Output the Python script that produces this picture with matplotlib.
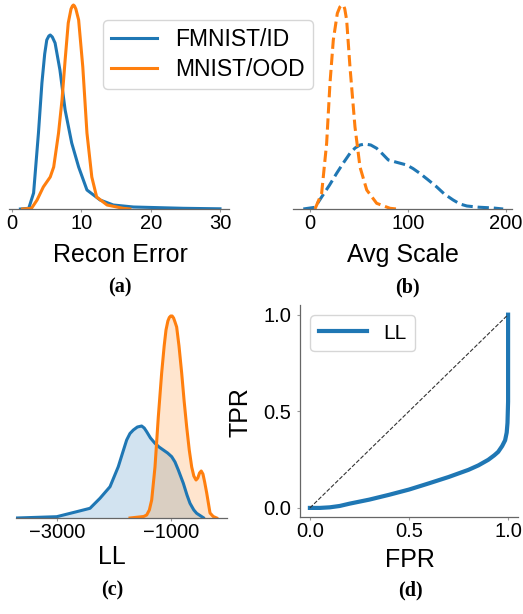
import matplotlib
matplotlib.use("Agg")
import matplotlib.pyplot as plt
from matplotlib.lines import Line2D

plt.rcParams['font.family'] = ['Liberation Sans', 'DejaVu Sans']

BLUE = '#1f77b4'
ORANGE = '#ff7f0e'

# (a) reconstruction error densities (arbitrary height units)
recon_id_x = [1.2, 2.4, 3.1, 3.8, 4.3, 4.7, 5.0, 5.3, 5.5, 5.8, 6.2, 6.9, 7.65, 8.6, 9.6, 10.8, 12.7, 14.6, 17.5, 24.7, 30.0]
recon_id_y = [0, 0.7, 16, 76, 126, 155, 169, 173, 174, 172, 166, 139, 99, 66, 42, 19, 9, 4, 2, 0.7, 0.2]
recon_ood_x = [1.5, 2.8, 3.6, 4.5, 5.5, 6.0, 6.7, 7.2, 7.65, 8.1, 8.5, 8.7, 8.85, 9.0, 9.2, 9.6, 10.2, 10.8, 11.5, 12.2, 13.7, 16.0, 17.0]
recon_ood_y = [0, 0.7, 9, 22, 32, 42, 76, 109, 149, 186, 200, 203, 204, 203, 200, 189, 142, 76, 32, 12, 4, 0.7, 0]

# (b) average scale densities
scale_id_x = [-6.8, 5.1, 11.9, 20, 27.2, 34, 40.8, 46, 51, 56.1, 62, 68, 74, 79.9, 88.4, 98.6, 105, 112, 120, 129, 137, 146, 153, 160, 172, 187, 197]
scale_id_y = [0, 1.7, 12, 24, 35.7, 46, 55.7, 61, 64, 65, 64, 60.7, 55, 49, 46.7, 44, 40.5, 35.7, 29.5, 22.3, 15, 9, 5, 3, 1.8, 1, 0]
scale_ood_x = [5.1, 11.9, 17, 20.4, 23.8, 27.9, 30.5, 32, 33.3, 34.5, 35.5, 37.4, 40.8, 45.9, 51, 57.9, 68, 81.6, 88.4]
scale_ood_y = [0, 15.7, 65.7, 125.7, 169, 195.7, 202, 203.5, 204, 203, 200, 189, 142, 82, 42, 19, 5.7, 0.7, 0]

# (c) log-likelihood densities
ll_id_x = [-3707, -3005, -2655, -2421, -2246, -2070, -1925, -1850, -1778, -1720, -1661, -1590, -1515, -1470, -1427, -1360, -1281, -1210, -1135, -1060, -988, -930, -872, -784, -720, -667, -600, -550, -433]
ll_id_y = [0, 1.3, 6.3, 9.7, 19.7, 31.3, 51.3, 65, 78, 84.5, 88, 91, 92, 90, 86.3, 80, 74.7, 71, 68, 65, 61.3, 56, 48, 34.7, 23, 14.7, 8, 4.7, 0.7]
ll_id_y[-1] = 0.3
ll_ood_x = [-1719, -1480, -1427, -1380, -1339, -1281, -1223, -1164, -1120, -1088, -1055, -1030, -1005, -980, -955, -930, -901, -860, -813, -770, -725, -680, -637, -600, -561, -530, -500, -470, -440, -410, -374, -316, -260, -199]
ll_ood_y = [0, 1.5, 3, 8, 18, 51, 101, 145, 172, 188, 197, 200.5, 202, 202, 200, 196, 191, 172, 145, 117, 91, 68, 51, 42, 38, 40, 45, 47, 44, 36, 25, 5, 1.5, 0]

# (d) ROC curve for LL
fpr = [0, 0.05, 0.1, 0.15, 0.2, 0.3, 0.4, 0.5, 0.6, 0.7, 0.8, 0.85, 0.9, 0.93, 0.95, 0.97, 0.985, 0.993, 0.997, 1.0, 1.0]
tpr = [0, 0, 0.003, 0.01, 0.022, 0.043, 0.068, 0.095, 0.127, 0.16, 0.197, 0.22, 0.249, 0.272, 0.29, 0.32, 0.35, 0.39, 0.44, 0.55, 1.0]

W, H = 523, 614
fig = plt.figure(figsize=(W / 100, H / 100), dpi=100)


def add_axes(x0, x1, ytop, ybot):
    return fig.add_axes([x0 / W, 1 - ybot / H, (x1 - x0) / W, (ybot - ytop) / H])


def style(ax, hide_y=True):
    for s in ['top', 'right']:
        ax.spines[s].set_visible(False)
    for s in ['left', 'bottom']:
        ax.spines[s].set_color('0.4')
        ax.spines[s].set_linewidth(0.9)
    ax.tick_params(axis='x', length=2.5, width=0.8, color='0.6', pad=1, labelsize=14.5)
    ax.tick_params(axis='y', length=2.5, width=0.8, color='0.6', pad=4, labelsize=14.5)
    if hide_y:
        ax.spines['left'].set_visible(False)
        ax.set_yticks([])


def ftext(x, y, s, **kw):
    fig.text(x / W, 1 - y / H, s, ha='center', va='center', **kw)


LAB = 18
cap = dict(family=['Liberation Serif', 'DejaVu Serif'], weight='bold', fontsize=14.5)

# (a)
ax = add_axes(9, 229, 2, 209)
ax.plot(recon_id_x, recon_id_y, color=BLUE, lw=2.2)
ax.plot(recon_ood_x, recon_ood_y, color=ORANGE, lw=2.2)
ax.set_xlim(-0.45, 31.3)
ax.set_ylim(0, 207)
ax.set_xticks([0, 10, 20, 30])
style(ax)
ftext(120, 255, 'Recon Error', fontsize=LAB)
ftext(120, 287, '(a)', **cap)

# (b)
ax = add_axes(293, 512, 2, 209)
ax.plot(scale_id_x, scale_id_y, color=BLUE, lw=2.2, ls='--')
ax.plot(scale_ood_x, scale_ood_y, color=ORANGE, lw=2.2, ls='--')
ax.set_xlim(-17.3, 206)
ax.set_ylim(0, 207)
ax.set_xticks([0, 100, 200])
style(ax)
ftext(403, 255, 'Avg Scale', fontsize=LAB)
ftext(407, 287, '(b)', **cap)

handles = [Line2D([], [], color=BLUE, lw=2.2), Line2D([], [], color=ORANGE, lw=2.2)]
fig.legend(handles, ['FMNIST/ID', 'MNIST/OOD'], loc='upper left',
           bbox_to_anchor=(103 / W, 1 - 20 / H), borderaxespad=0,
           fontsize=16.5, handlelength=2.0, handletextpad=0.8,
           labelspacing=0.3, borderpad=0.35)

# (c)
ax = add_axes(16, 227, 314, 518)
ax.fill_between(ll_id_x, ll_id_y, color=BLUE, alpha=0.2, lw=0)
ax.plot(ll_id_x, ll_id_y, color=BLUE, lw=2.2)
ax.fill_between(ll_ood_x, ll_ood_y, color=ORANGE, alpha=0.2, lw=0)
ax.plot(ll_ood_x, ll_ood_y, color=ORANGE, lw=2.2)
ax.set_xlim(-3719, -18)
ax.set_ylim(0, 204)
ax.set_xticks([-3000, -1000])
style(ax)
ftext(112, 557, 'LL', fontsize=LAB)
ftext(112, 590, '(c)', **cap)

# (d)
ax = add_axes(300, 518, 305, 517)
ax.plot(fpr, tpr, color=BLUE, lw=3, label='LL')
ax.plot([0, 1], [0, 1], color='0.2', lw=0.8, ls='--')
ax.set_xlim(-0.05, 1.05)
ax.set_ylim(-0.047, 1.05)
ax.set_xticks([0, 0.5, 1.0])
ax.set_yticks([0, 0.5, 1.0])
ax.set_xticklabels(['0.0', '0.5', '1.0'])
ax.set_yticklabels(['0.0', '0.5', '1.0'])
style(ax, hide_y=False)
ax.legend(loc='upper left', fontsize=15, handlelength=2.3, borderaxespad=0.5)
ftext(240, 412, 'TPR', fontsize=LAB, rotation=90)
ftext(410, 560, 'FPR', fontsize=LAB)
ftext(410, 590, '(d)', **cap)

fig.savefig('out.png', dpi=100)
